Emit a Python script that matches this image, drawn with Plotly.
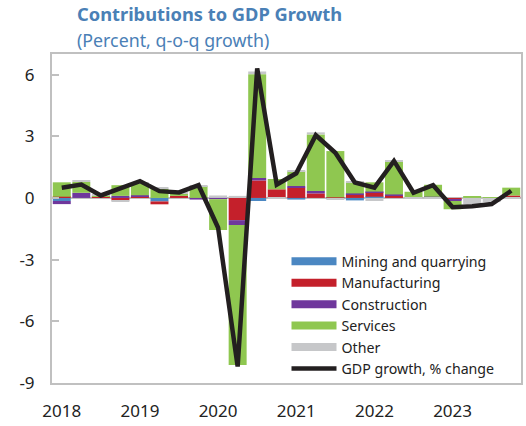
import plotly.graph_objects as go

quarters = [f"{y}Q{q}" for y in range(2018, 2024) for q in range(1, 5)]
year_ticks = ["2018Q1", "2019Q1", "2020Q1", "2021Q1", "2022Q1", "2023Q1"]
year_labels = ["2018", "2019", "2020", "2021", "2022", "2023"]

mining = [-0.15, 0.0, 0.0, 0.0, 0.0, -0.17, 0.0, 0.0,
          0.0, 0.0, -0.15, 0.0, -0.08, 0.0, -0.05, -0.12,
          0.06, 0.0, 0.0, 0.0, 0.0, 0.0, 0.0, 0.0]
manufacturing = [0.06, 0.0, 0.05, -0.12, 0.05, -0.14, 0.1, 0.0,
                 0.0, -1.08, 0.85, 0.42, 0.5, 0.22, 0.03, 0.17,
                 0.22, 0.1, 0.0, 0.0, -0.1, 0.0, 0.0, 0.12]
construction = [-0.15, 0.25, 0.0, 0.1, 0.08, 0.0, 0.0, -0.08,
                -0.06, -0.24, 0.12, 0.0, 0.08, 0.12, 0.0, 0.05,
                0.03, 0.07, 0.0, 0.06, -0.05, 0.0, 0.0, 0.0]
services = [0.7, 0.53, 0.05, 0.52, 0.55, 0.45, 0.1, 0.58,
            -1.5, -6.8, 5.05, 0.5, 0.72, 2.75, 2.25, 0.55,
            0.45, 1.6, 0.3, 0.58, -0.4, 0.05, 0.03, 0.38]
other = [0.0, 0.08, 0.05, -0.05, 0.05, 0.07, 0.05, 0.04,
         0.12, 0.1, 0.13, -0.05, 0.03, 0.1, -0.05, 0.05,
         -0.15, 0.07, -0.05, -0.05, 0.0, -0.3, -0.2, -0.05]
gdp = [0.5, 0.65, 0.12, 0.45, 0.82, 0.33, 0.27, 0.62,
       -1.45, -8.2, 6.3, 0.65, 1.2, 3.05, 2.2, 0.75,
       0.5, 1.8, 0.25, 0.62, -0.45, -0.4, -0.3, 0.35]

series = [
    ("Mining and quarrying", mining, "#4b87c2"),
    ("Manufacturing", manufacturing, "#c4202b"),
    ("Construction", construction, "#6f379c"),
    ("Services", services, "#8fc750"),
    ("Other", other, "#c6c7c9"),
]

fig = go.Figure()
for name, vals, col in series:
    fig.add_trace(go.Bar(x=quarters, y=vals, name=name, marker_color=col,
                         marker_line_width=0, showlegend=False))
fig.add_trace(go.Scatter(x=quarters, y=gdp, mode="lines", name="GDP growth, % change",
                         line=dict(color="#231f20", width=4.5), showlegend=False))

# legend entries as wide swatches
for name, vals, col in series:
    fig.add_trace(go.Scatter(x=[None], y=[None], mode="lines", name=name,
                             line=dict(color=col, width=8)))
fig.add_trace(go.Scatter(x=[None], y=[None], mode="lines", name="GDP growth, % change",
                         line=dict(color="#231f20", width=4.5)))

font = "Noto Sans"
fig.update_layout(
    width=526, height=426,
    margin=dict(l=52, r=3, t=54, b=43),
    paper_bgcolor="white", plot_bgcolor="white",
    barmode="relative", bargap=0.08,
    font=dict(family=font, size=17, color="#222222"),
    legend=dict(x=0.5, y=0.418, xanchor="left", yanchor="top",
                font=dict(size=14.2, color="#222222"), itemwidth=45,
                tracegroupgap=0, bgcolor="rgba(0,0,0,0)"),
    annotations=[
        dict(text="<b>Contributions to GDP Growth</b>", xref="paper", yref="paper",
             x=0.05, y=1.122, xanchor="left", yanchor="middle", showarrow=False,
             font=dict(size=18.3, color="#4a80b6", family=font)),
        dict(text="(Percent, q-o-q growth)", xref="paper", yref="paper",
             x=0.05, y=1.043, xanchor="left", yanchor="middle", showarrow=False,
             font=dict(size=17.8, color="#4a80b6", family=font)),
    ],
)
fig.update_xaxes(type="category", tickvals=year_ticks, ticktext=year_labels,
                 showgrid=False, ticks="", showline=True, mirror=True,
                 linecolor="#c0c0c0", linewidth=2, ticklabelstandoff=12)
fig.update_yaxes(range=[-9, 7], tickvals=[-9, -6, -3, 0, 3, 6],
                 ticktext=["-9", "-6", "-3", "0", "3", "6"],
                 showgrid=False, ticks="inside", ticklen=7, tickcolor="#c0c0c0",
                 tickwidth=2, showline=True, mirror=True, linecolor="#c0c0c0",
                 linewidth=2, zeroline=True, zerolinecolor="#c0c0c0",
                 zerolinewidth=2, ticklabelstandoff=12)

fig.write_html("out.html", config={"displayModeBar": False},
               post_script="document.body.style.margin='0';")
